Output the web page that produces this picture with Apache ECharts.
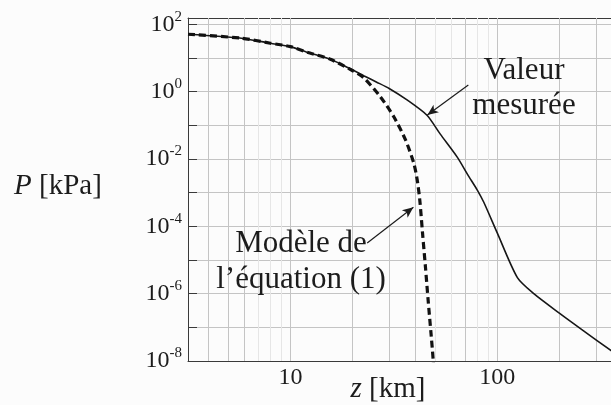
<!DOCTYPE html>
<html>
<head>
<meta charset="utf-8">
<script src="https://cdn.jsdelivr.net/npm/echarts@6/dist/echarts.min.js"></script>
<style>
  html, body { margin: 0; padding: 0; background: #fcfcfc; }
  #chart { width: 611px; height: 405px; }
</style>
</head>
<body>
<div id="chart"></div>
<script>
// altitude z [km] / pression P [kPa]
const mesure_z = [3.2, 5.8, 8, 10, 12, 15.6, 20, 22.6, 26, 30, 36.6, 45.7, 53, 64, 72, 80, 86, 100, 125, 150, 200, 260, 360];
const mesure_p = [51, 39, 27.6, 21.9, 15, 9.2, 4.4, 3.0, 1.95, 1.25, 0.57, 0.2, 0.055, 0.0114, 3.4e-3, 1.2e-3, 5.2e-4, 6.3e-5, 3e-6, 1.0e-6, 2.6e-7, 8e-8, 1.9e-8];

const modele_z = [3.2, 5.8, 8, 10, 12, 15.6, 20, 22.6, 27.2, 31.6, 36, 39.5, 41, 42.2, 43.5, 44.9, 46.3, 47.8, 48.9, 49.6];
const modele_p = [51, 39, 27.6, 21.9, 15, 9.2, 4.2, 2.6, 0.71, 0.18, 0.037, 7.4e-3, 2.4e-3, 5.9e-4, 6.3e-5, 6.5e-6, 6.3e-7, 6.6e-8, 1.2e-8, 2.5e-9];

// lignes de grille verticales (bien visibles / effacées sur le scan)
const x_grid_main = [4, 5, 6, 10, 20, 30, 40, 70, 100, 200, 300];
const x_grid_faint = [7, 8, 9, 50, 60, 80, 90, 400];
const x_labels = [10, 100];
const y_label_exp = [-8, -6, -4, -2, 0, 2];

// flèches d'annotation, en coordonnées des données [z, P]
const arrow_valeur = [[72.4, 1.58], [45.9, 0.203]];
const arrow_modele = [[23.5, 3.2e-5], [39.3, 3.7e-4]];

const F = '"Liberation Serif", "DejaVu Serif", serif';
const INK = '#1c1c1c';

function pairs(xs, ys) {
  return xs.map((x, i) => [x, ys[i]]);
}

function vlines(list, color) {
  return list.map(v => ({ xAxis: v, lineStyle: { color: color, width: 1, type: 'solid' } }));
}

const chart = echarts.init(document.getElementById('chart'), null, { renderer: 'canvas' });

const option = {
  backgroundColor: '#fcfcfc',
  animation: false,
  grid: {
    left: 188, top: 18, right: -31, bottom: 44,
    containLabel: false,
    outerBoundsMode: 'none'
  },
  xAxis: [
    {
      type: 'log', logBase: 10, min: 3.2, max: 500,
      axisLine: { show: true, lineStyle: { color: '#3a3a3a', width: 1 } },
      axisTick: { show: true, inside: true, length: 9, lineStyle: { color: '#3a3a3a' } },
      splitLine: { show: false },
      axisLabel: {
        margin: 5, fontSize: 24, fontFamily: F, color: INK,
        formatter: function (v) {
          const r = Math.round(v);
          return (Math.abs(v - r) < 1e-6 && x_labels.indexOf(r) >= 0) ? String(r) : '';
        }
      }
    },
    {
      type: 'log', logBase: 10, min: 3.2, max: 500, position: 'top',
      axisLine: { show: true, lineStyle: { color: '#3a3a3a', width: 1 } },
      axisTick: { show: true, inside: true, length: 6, lineStyle: { color: '#3a3a3a' } },
      axisLabel: { show: false },
      splitLine: { show: false }
    }
  ],
  yAxis: {
    type: 'log', logBase: 10, min: 1e-8, max: 155, interval: 1,
    axisLine: { show: true, lineStyle: { color: '#3a3a3a', width: 1 } },
    axisTick: { show: true, inside: true, length: 9, lineStyle: { color: '#3a3a3a' } },
    splitLine: { show: true, lineStyle: { color: '#c4c4c4', width: 1 } },
    axisLabel: {
      margin: 6, fontSize: 24, fontFamily: F, color: INK,
      formatter: function (v) {
        const l = Math.log10(v);
        const e = Math.round(l);
        if (Math.abs(l - e) > 1e-6 || y_label_exp.indexOf(e) < 0) return '';
        return '{b|10}{s|' + e + '}';
      },
      rich: {
        b: { fontSize: 24, fontFamily: F, color: INK },
        s: { fontSize: 15, fontFamily: F, color: INK, padding: [0, 0, 15, 0] }
      }
    }
  },
  series: [
    {
      name: 'grille', type: 'line', data: [], silent: true, z: 1,
      markLine: {
        silent: true, z: 1, symbol: ['none', 'none'], label: { show: false },
        animation: false,
        data: vlines(x_grid_main, '#c4c4c4').concat(vlines(x_grid_faint, '#e6e6e6'))
      }
    },
    {
      name: 'Valeur mesurée', type: 'line', data: pairs(mesure_z, mesure_p),
      showSymbol: false, smooth: 0.25, z: 3,
      lineStyle: { color: '#161616', width: 1.6 }
    },
    {
      name: "Modèle de l'équation (1)", type: 'line', data: pairs(modele_z, modele_p),
      showSymbol: false, smooth: 0.25, z: 4,
      lineStyle: { color: '#111', width: 3.2, type: [7, 4] }
    },
    {
      name: 'fleches', type: 'line', data: [], silent: true, z: 5,
      markLine: {
        silent: true, z: 6, symbol: ['none', 'arrow'], symbolSize: [7, 11],
        label: { show: false }, animation: false,
        lineStyle: { color: INK, width: 1.2, type: 'solid' },
        data: [
          [{ coord: arrow_valeur[0] }, { coord: arrow_valeur[1] }],
          [{ coord: arrow_modele[0] }, { coord: arrow_modele[1] }]
        ]
      }
    }
  ],
  graphic: [
    {
      type: 'text', x: 58, y: 186, z: 10,
      style: {
        text: '{i|P}{r| [kPa]}', align: 'center', verticalAlign: 'middle',
        fontSize: 29, fontFamily: F, fill: INK,
        rich: {
          i: { fontSize: 29, fontFamily: F, fontStyle: 'italic', fill: INK },
          r: { fontSize: 29, fontFamily: F, fill: INK }
        }
      }
    },
    {
      type: 'text', x: 388, y: 389, z: 10,
      style: {
        text: '{i|z}{r| [km]}', align: 'center', verticalAlign: 'middle',
        fontSize: 29, fontFamily: F, fill: INK,
        rich: {
          i: { fontSize: 29, fontFamily: F, fontStyle: 'italic', fill: INK },
          r: { fontSize: 29, fontFamily: F, fill: INK }
        }
      }
    },
    {
      type: 'text', x: 524, y: 71, z: 10,
      style: { text: 'Valeur', align: 'center', verticalAlign: 'middle', fontSize: 31, fontFamily: F, fill: INK }
    },
    {
      type: 'text', x: 524, y: 106, z: 10,
      style: { text: 'mesurée', align: 'center', verticalAlign: 'middle', fontSize: 31, fontFamily: F, fill: INK }
    },
    {
      type: 'text', x: 301, y: 244, z: 10,
      style: { text: 'Modèle de', align: 'center', verticalAlign: 'middle', fontSize: 31, fontFamily: F, fill: INK }
    },
    {
      type: 'text', x: 301, y: 280, z: 10,
      style: { text: 'l’équation (1)', align: 'center', verticalAlign: 'middle', fontSize: 31, fontFamily: F, fill: INK }
    }
  ]
};

chart.setOption(option);
</script>
</body>
</html>
